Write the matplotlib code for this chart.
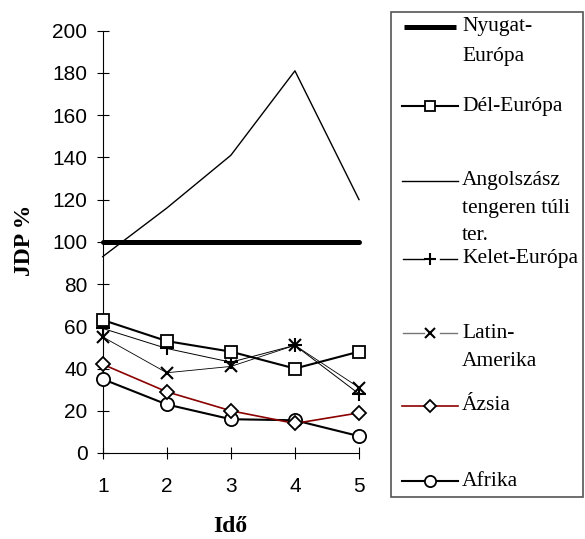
import matplotlib
matplotlib.use("Agg")
import matplotlib.pyplot as plt
from matplotlib.lines import Line2D
from matplotlib.patches import Rectangle

x = [1, 2, 3, 4, 5]
nyugat = [100, 100, 100, 100, 100]
del_europa = [63, 53, 48, 40, 48]
angolszasz = [93, 116, 141, 181, 120]
kelet = [59, 49.5, 43, 51, 28]
latin = [55, 38, 41, 51, 31]
azsia = [42, 29, 20, 14, 19]
afrika = [35, 23, 16, 15.5, 8]

labels = ["Nyugat-\nEurópa", "Dél-Európa", "Angolszász\ntengeren túli\nter.",
          "Kelet-Európa", "Latin-\nAmerika", "Ázsia", "Afrika"]
yticks = [0, 20, 40, 60, 80, 100, 120, 140, 160, 180, 200]
xlabel = "Idő"
ylabel = "JDP %"

W, H = 585, 539
fig = plt.figure(figsize=(W / 100, H / 100), dpi=100)
ax = fig.add_axes([102.7 / W, 1 - 453 / H, (359 - 102.7) / W, (453 - 30.7) / H])

red = "#8b0000"
styles = [
    dict(color="black", lw=3.6, solid_capstyle="round"),
    dict(color="black", lw=1.5, marker="s", ms=8.5, mfc="white", mec="black", mew=1.3),
    dict(color="black", lw=1.0),
    dict(color="black", lw=0.7, marker="+", ms=10, mec="black", mew=1.5),
    dict(color="black", lw=0.6, marker="x", ms=9, mec="black", mew=1.5),
    dict(color=red, lw=1.2, marker="D", ms=7, mfc="white", mec="black", mew=1.3),
    dict(color="black", lw=1.5, marker="o", ms=9.5, mfc="white", mec="black", mew=1.3),
]
series = [nyugat, del_europa, angolszasz, kelet, latin, azsia, afrika]
order = [2, 0, 3, 4, 1, 6, 5]
for i in order:
    ax.plot(x, series[i], zorder=3 + order.index(i), clip_on=False, **styles[i])

ax.set_xlim(1, 5)
ax.set_ylim(0, 200)
ax.set_xticks(x)
ax.set_yticks(yticks)
for s in ["top", "right"]:
    ax.spines[s].set_visible(False)
for s in ["left", "bottom"]:
    ax.spines[s].set_linewidth(0.8)
ax.tick_params(direction="inout", length=8, width=0.8, labelsize=15)
ax.yaxis.set_tick_params(pad=7)
ax.xaxis.set_tick_params(pad=13)
for t in ax.get_xticklabels() + ax.get_yticklabels():
    t.set_fontfamily("Liberation Sans")

fig.text(230 / W, 1 - 527 / H, xlabel, ha="center", va="center",
         fontfamily="Liberation Serif", fontweight="bold", fontsize=17)
fig.text(24 / W, 1 - 240 / H, ylabel, ha="center", va="center", rotation=90,
         fontfamily="Liberation Serif", fontweight="bold", fontsize=17)

# legend drawn in pixel coordinates
lax = fig.add_axes([0, 0, 1, 1], facecolor="none")
lax.set_xlim(0, W)
lax.set_ylim(H, 0)
lax.axis("off")
lax.add_patch(Rectangle((391, 12), 192, 485, fill=False, ec="#555555", lw=1.2))
entry_y = [27, 106, 181, 259, 333, 406, 481]
line_sp = [30, 0, 27, 0, 28, 0, 0]
legend_colors = ["black", "black", "black", "black", "#777777", red, "black"]
for i, (lab, yy) in enumerate(zip(labels, entry_y)):
    st = styles[i]
    c = legend_colors[i]
    if i == 0:
        lax.add_line(Line2D([404, 456], [yy, yy], color=c, lw=3.6,
                            solid_capstyle="butt"))
    elif i in (3, 4):
        lax.add_line(Line2D([403, 424], [yy, yy], color=c, lw=1.0))
        lax.add_line(Line2D([440, 457], [yy, yy], color=c, lw=1.0))
    else:
        lax.add_line(Line2D([402, 458], [yy, yy], color=c, lw=st["lw"] if i != 2 else 1.0))
    if "marker" in st:
        lax.add_line(Line2D([430], [yy], ls="none", marker=st["marker"],
                            ms=st["ms"] * 0.85, mfc=st.get("mfc", "none"),
                            mec=st["mec"], mew=st["mew"]))
    for j, part in enumerate(lab.split("\n")):
        lax.text(462, yy + j * line_sp[i], part, ha="left", va="center",
                 fontfamily="Liberation Serif", fontsize=15.5)

fig.savefig("out.png", dpi=100)
